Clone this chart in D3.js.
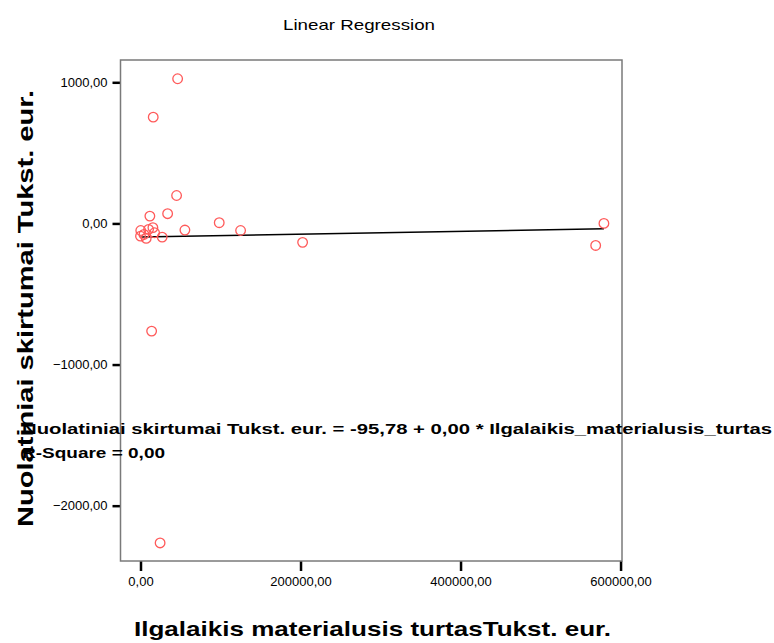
<!DOCTYPE html>
<html>
<head>
<meta charset="utf-8">
<script src="https://cdn.jsdelivr.net/npm/d3@7"></script>
<style>
  body { margin: 0; background: #fff; }
  text { font-family: Arial, "Liberation Sans", sans-serif; }
</style>
</head>
<body>
<script>
(function() {

	var width = 774,
		height = 643;

	// data
	var assets = [46400, 15900, 45100, 33900, 11700, 98400, 55500, 125100, 202600, 579200,
		568900, 27100, 13900, 24500, 15500, 300, 10100, 4300, 0, 7100, 17600];
	var residuals = [1025, 753, 198, 69, 52, 5, -47, -50, -134, 0,
		-156, -97, -763, -2264, -30, -50, -42, -78, -90, -106, -66];
	var xTicks = [0, 200000, 400000, 600000];
	var yTicks = [1000, 0, -1000, -2000];
	var fitLine = [0, 579200];
	var intercept = -95.78,
		slope = 0.0001006;

	var title = "Linear Regression",
		xLabel = "Ilgalaikis materialusis turtasTukst. eur.",
		yLabel = "Nuolatiniai skirtumai Tukst. eur.",
		eqText = "Nuolatiniai skirtumai Tukst. eur. = -95,78 + 0,00 * Ilgalaikis_materialusis_turtas",
		rText = "R-Square = 0,00";

	// frame
	var left = 120.5, right = 622, top = 60, bottom = 561;

	var pointColor = "#ff5a5a",
		frameColor = "#7a7a7a";

	var fmt = d3.formatLocale({decimal: ",", thousands: "", grouping: [3], currency: ["", ""]}).format(".2f");

	var x = d3.scaleLinear().domain([-25000, 601800]).range([left, right]);
	var y = d3.scaleLinear().domain([1158, -2392]).range([top, bottom]);

	var svg = d3.select("body").append("svg")
		.attr("width", width)
		.attr("height", height);

	svg.append("rect")
		.attr("width", width)
		.attr("height", height)
		.attr("fill", "#fff");

	// title
	svg.append("text")
		.attr("x", 359)
		.attr("y", 30)
		.attr("text-anchor", "middle")
		.attr("font-size", 14.5)
		.attr("textLength", 152)
		.attr("lengthAdjust", "spacingAndGlyphs")
		.text(title);

	// axes
	var yAxis = svg.append("g")
		.attr("transform", "translate(" + left + ",0)")
		.call(d3.axisLeft(y).tickValues(yTicks).tickFormat(fmt).tickSize(8).tickPadding(5));
	var xAxis = svg.append("g")
		.attr("transform", "translate(0," + bottom + ")")
		.call(d3.axisBottom(x).tickValues(xTicks).tickFormat(fmt).tickSize(10).tickPadding(6));

	[xAxis, yAxis].forEach(function(g) {
		g.select(".domain").remove();
		g.selectAll(".tick line").attr("stroke", "#000").attr("stroke-width", 2.5);
		g.selectAll(".tick text")
			.attr("font-size", 13)
			.attr("font-family", "Arial, 'Liberation Sans', sans-serif")
			.attr("fill", "#000");
	});

	// plot frame
	svg.append("rect")
		.attr("x", left)
		.attr("y", top)
		.attr("width", right - left)
		.attr("height", bottom - top)
		.attr("fill", "none")
		.attr("stroke", frameColor)
		.attr("stroke-width", 1.5);

	// fit line
	var line = d3.line()
		.x(function(d) { return x(d); })
		.y(function(d) { return y(intercept + slope * d); });
	svg.append("path")
		.datum(fitLine)
		.attr("d", line)
		.attr("fill", "none")
		.attr("stroke", "#000")
		.attr("stroke-width", 1.5);

	// points
	svg.selectAll("circle.pt")
		.data(assets)
		.enter()
		.append("circle")
		.attr("class", "pt")
		.attr("cx", function(d) { return x(d); })
		.attr("cy", function(d, i) { return y(residuals[i]); })
		.attr("r", 4.8)
		.attr("fill", "none")
		.attr("stroke", pointColor)
		.attr("stroke-width", 1.3);

	// axis titles
	svg.append("text")
		.attr("x", 134)
		.attr("y", 636)
		.attr("font-size", 21)
		.attr("font-weight", "bold")
		.attr("textLength", 477)
		.attr("lengthAdjust", "spacingAndGlyphs")
		.text(xLabel);

	svg.append("text")
		.attr("transform", "translate(33,527) rotate(-90)")
		.attr("font-size", 22)
		.attr("font-weight", "bold")
		.attr("textLength", 437)
		.attr("lengthAdjust", "spacingAndGlyphs")
		.text(yLabel);

	// equation
	svg.append("text")
		.attr("x", 22)
		.attr("y", 434)
		.attr("font-size", 15)
		.attr("font-weight", "bold")
		.attr("textLength", 750)
		.attr("lengthAdjust", "spacingAndGlyphs")
		.text(eqText);
	svg.append("text")
		.attr("x", 22)
		.attr("y", 458)
		.attr("font-size", 15)
		.attr("font-weight", "bold")
		.attr("textLength", 143)
		.attr("lengthAdjust", "spacingAndGlyphs")
		.text(rText);

})();
</script>
</body>
</html>
